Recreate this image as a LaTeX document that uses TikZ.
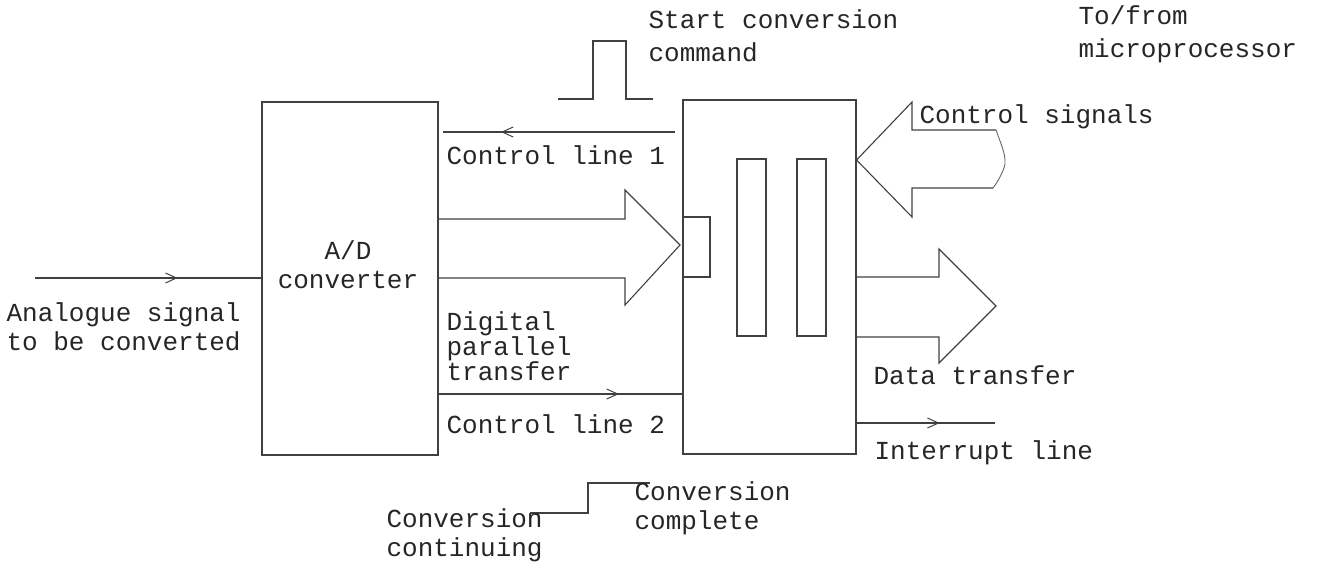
\documentclass[tikz,border=0pt]{standalone}
\usepackage{fontspec}
\setmonofont{Liberation Mono}
\usetikzlibrary{arrows.meta,decorations.markings,calc}
\begin{document}
\begin{tikzpicture}[x=1pt,y=-1pt,
  line width=1.1pt, draw=black!75,
  every node/.style={font=\ttfamily\fontsize{26}{29}\selectfont, text=black!85, inner sep=0pt},
  blockbox/.style={draw, rectangle, inner sep=0pt},
  lbl/.style={anchor=west, align=left},
  widelbl/.style={lbl, font=\ttfamily\fontsize{26}{33}\selectfont},
  midarrow/.style={postaction={decorate},
    decoration={markings, mark=at position #1 with {\arrow{Straight Barb[length=11pt,width=10pt,line width=1pt]}}}}
]
\useasboundingbox (0,0) rectangle (1319,564);

% main blocks
\node[blockbox, minimum width=176pt, minimum height=353pt] (adc) at (350,278.5) {};
\node[align=center] (adctext) at (348,265) {A/D\\converter};
\node[blockbox, minimum width=173pt, minimum height=354pt] (ifc) at (769.5,277) {};

% registers inside the interface
\node[blockbox, minimum width=29pt, minimum height=177pt] (reg1) at (751.5,247.5) {};
\node[blockbox, minimum width=29pt, minimum height=177pt] (reg2) at (811.5,247.5) {};
\coordinate (latchtop) at (710,217);
\coordinate (latchbot) at (710,277);
\draw (ifc.west |- latchtop) -- (latchtop) -- (latchbot) -- (ifc.west |- latchbot);

% analogue input
\coordinate (ain) at (35,278);
\draw[midarrow=0.63] (ain) -- (adc.west |- ain);

% control line 1 (interface -> converter)
\coordinate (c1a) at (675,132);
\coordinate (c1b) at (443,132);
\draw[midarrow=0.75] (c1a) -- (c1b);

% control line 2 (converter -> interface)
\coordinate (c2) at (438,394);
\draw[midarrow=0.74] (c2) -- (ifc.west |- c2);

% digital parallel transfer block arrow
\draw (adc.east |- 0,219) -- (625,219) -- (625,190) -- (680,245) -- (625,305) -- (625,278) -- (adc.east |- 0,278);

% data transfer block arrow
\draw (ifc.east |- 0,277) -- (939,277) -- (939,249) -- (996,306) -- (939,363) -- (939,337) -- (ifc.east |- 0,337);

% control signals block arrow
\coordinate (cstip) at (ifc.east |- 0,160);
\draw (996,130) -- (912,130) -- (912,102) -- (cstip) -- (912,217) -- (912,188) -- (993,188);
\draw[line width=0.9pt, draw=black!60] (996,130) .. controls (1000,142) and (1008,158) .. (1004,168) .. controls (1000,178) and (996,184) .. (993,188);

% interrupt line
\coordinate (intend) at (995,423);
\draw[midarrow=0.6] (ifc.east |- intend) -- (intend);

% start conversion pulse
\coordinate (p0) at (558,99);
\draw (p0) -- (593,99) -- (593,41) -- (626,41) -- (626,99) -- (653,99);

% conversion complete step
\coordinate (s0) at (530,513);
\draw (s0) -- (588,513) -- (588,483) -- (650,483);

% labels
\node[widelbl] (lstart) at (648,36) {Start conversion\\command};
\node[widelbl] (lmicro) at (1078,34) {To/from\\microprocessor};
\node[lbl] (lcsig) at (919,117) {Control signals};
\node[lbl] (lcl1) at (446,155) {Control line 1};
\node[lbl, font=\ttfamily\fontsize{26}{24}\selectfont] (ldig) at (446,346) {Digital\\parallel\\transfer};
\node[lbl] (lana) at (6,327) {Analogue signal\\to be converted};
\node[lbl] (ldata) at (873,375) {Data transfer};
\node[lbl] (lcl2) at (446,424) {Control line 2};
\node[lbl] (lint) at (874,453) {Interrupt line};
\node[lbl] (lcomp) at (634,508) {Conversion\\complete};
\node[lbl] (lcont) at (386,535) {Conversion\\continuing};
\end{tikzpicture}
\end{document}
